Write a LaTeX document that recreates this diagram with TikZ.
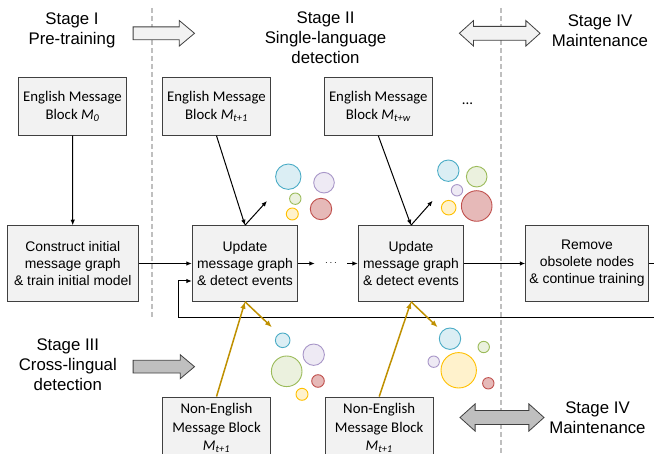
\documentclass[tikz,border=0pt]{standalone}
\usepackage{fontspec}
\setmainfont{Liberation Sans}
\newfontfamily\carlito{Carlito}
\usetikzlibrary{arrows.meta,shapes.arrows,positioning}
\definecolor{boxfill}{HTML}{F2F2F2}
\definecolor{boxline}{HTML}{404040}
\definecolor{stagegray}{HTML}{BFBFBF}
\definecolor{gold}{HTML}{BF9000}
\definecolor{cblue}{HTML}{4BACC6}
\definecolor{cgreen}{HTML}{9BBB59}
\definecolor{cpurple}{HTML}{A896C8}
\definecolor{cred}{HTML}{C0504D}
\definecolor{cyellow}{HTML}{FFC000}

\begin{document}
\begin{tikzpicture}[x=1pt, y=-1pt,
    block/.style={draw=boxline, fill=boxfill, line width=0.9pt, align=center, inner sep=0pt,
      font=\fontsize{13.9}{17}\selectfont},
    msgblock/.style={block, minimum width=108.4pt, minimum height=58pt,
      font=\carlito\fontsize{14.8}{18.2}\selectfont},
    stepblock/.style={block, minimum height=75.6pt},
    stage/.style={align=center, font=\fontsize{16.8}{20}\selectfont},
    arr/.style={-{Latex[length=5.5pt,width=4.5pt]}, line width=1pt},
    goldarr/.style={-{Latex[length=7pt,width=5.5pt]}, draw=gold, fill=gold, line width=1.5pt},
    divider/.style={draw=stagegray, line width=2.2pt, dash pattern=on 5pt off 3pt},
    bigone/.style={single arrow, draw=boxline, line width=0.8pt, inner xsep=0pt, inner ysep=6pt,
      single arrow tip angle=80, minimum height=61.4pt},
    bigtwo/.style={double arrow, draw=boxline, line width=0.8pt, inner xsep=0pt, inner ysep=6.5pt,
      double arrow tip angle=84},
    bub/.style={line width=0.9pt}]
  \useasboundingbox (0,0) rectangle (654,454);
  \clip (0,0) rectangle (654,454);

  % stage dividers
  \draw[divider] (152,8) -- (152,318);
  \draw[divider] (500.6,8) -- (500.6,454);

  % stage labels
  \node[stage] (stageI) at (72,30.5) {Stage I\\Pre-training};
  \node[stage] (stageII) at (325.5,38) {Stage II\\Single-language\\detection};
  \node[stage] (stageIVa) at (600,30.5) {Stage IV\\Maintenance};
  \node[stage] (stageIII) at (67.8,364.5) {Stage III\\Cross-lingual\\detection};
  \node[stage] (stageIVb) at (597.5,418) {Stage IV\\Maintenance};

  \node[bigone, fill=boxfill, single arrow head extend=6.35pt] (arrI) at (160,33.3) {};
  \node[bigtwo, fill=boxfill, double arrow head extend=5.85pt, minimum height=80.7pt] (arrIVa) at (499.7,33.3) {};
  \node[bigone, fill=stagegray, single arrow head extend=5.65pt] (arrIII) at (160,366.7) {};
  \node[bigtwo, fill=stagegray, inner ysep=6.65pt, double arrow head extend=6.55pt, minimum height=84pt] (arrIVb) at (502,417.5) {};

  % message blocks
  \node[msgblock] (em0) at (72.5,106.3) {English Message\\Block \textit{M\textsubscript{0}}};
  \node[msgblock] (em1) at (216.5,106.3) {English Message\\Block \textit{M\textsubscript{t+1}}};
  \node[msgblock] (em2) at (378.3,106.3) {English Message\\Block \textit{M\textsubscript{t+w}}};
  \node[font=\carlito\fontsize{14.8}{18}\selectfont] (moreblocks) at (467.5,104) {...};
  \node[msgblock, minimum height=62pt] (ne1) at (216.5,428) {Non-English\\Message Block\\\textit{M\textsubscript{t+1}}};
  \node[msgblock, minimum height=62pt] (ne2) at (379.2,428) {Non-English\\Message Block\\\textit{M\textsubscript{t+1}}};

  % processing steps
  \node[stepblock, minimum width=131pt] (construct) at (72.8,263.5) {Construct initial\\message graph\\\& train initial model};
  \node[stepblock, minimum width=105.4pt] (update1) at (245,263.5) {Update\\message graph\\\& detect events};
  \node[stepblock, minimum width=105.4pt] (update2) at (411,263.5) {Update\\message graph\\\& detect events};
  \node[stepblock, minimum width=122.6pt] (remove) at (587,263.5) {Remove\\obsolete nodes\\\& continue training};
  \node[minimum width=32pt, inner sep=0pt] (midots) at (331,263.5) {$\cdots$};

  % connectors
  \draw[arr] (em0) -- (construct);
  \draw[arr] (construct) -- (update1);
  \draw[arr] (update1) -- (midots);
  \draw[arr] (midots) -- (update2);
  \draw[arr] (update2) -- (remove);
  \coordinate (outR) at (654,263.5);
  \draw[line width=1pt] (remove) -- (outR);
  \coordinate (fbend) at (654,317.3);
  \coordinate (fbin) at ([yshift=-17.5pt]update1.west);
  \draw[arr] (fbend) -| ([xshift=-13.5pt]fbin) -- (fbin);

  \draw[arr] (em1.south) -- (update1.north);
  \draw[arr] (em2.south) -- (update2.north);
  \coordinate (ev1) at (267,201);
  \coordinate (ev2) at (432.7,200.7);
  \draw[arr] (update1.north) -- (ev1);
  \draw[arr] (update2.north) -- (ev2);

  \draw[goldarr] (ne1.north) -- (update1.south);
  \draw[goldarr] (ne2.north) -- (update2.south);
  \coordinate (cev1) at (272,327.3);
  \coordinate (cev2) at (437.7,327.3);
  \draw[goldarr] (update1.south) -- (cev1);
  \draw[goldarr] (update2.south) -- (cev2);

  % detected events
  \draw[bub, draw=cblue, fill=cblue!20] (288.3,176.7) circle (12.7);
  \draw[bub, draw=cpurple, fill=cpurple!20] (324,182.7) circle (10.3);
  \draw[bub, draw=cgreen, fill=cgreen!20] (295.3,198.7) circle (5.7);
  \draw[bub, draw=cyellow, fill=cyellow!20] (292.3,214) circle (6);
  \draw[bub, draw=cred, fill=cred!40] (321,209) circle (10.7);

  \draw[bub, draw=cblue, fill=cblue!20] (448.3,170.7) circle (10.7);
  \draw[bub, draw=cgreen, fill=cgreen!20] (476.7,176.7) circle (10.3);
  \draw[bub, draw=cpurple, fill=cpurple!20] (457,190.3) circle (5.7);
  \draw[bub, draw=cyellow, fill=cyellow!20] (448.7,207.7) circle (7.3);
  \draw[bub, draw=cred, fill=cred!40] (476.7,206) circle (15.3);

  \draw[bub, draw=cblue, fill=cblue!20] (282.7,340.3) circle (7.3);
  \draw[bub, draw=cpurple, fill=cpurple!20] (313.7,354.7) circle (10.7);
  \draw[bub, draw=cgreen, fill=cgreen!20] (286.7,371.3) circle (15.3);
  \draw[bub, draw=cred, fill=cred!40] (318,381) circle (6.3);
  \draw[bub, draw=cyellow, fill=cyellow!20] (302,394.3) circle (6);

  \draw[bub, draw=cblue, fill=cblue!20] (450,338.7) circle (10.7);
  \draw[bub, draw=cgreen, fill=cgreen!20] (483.7,347) circle (5.7);
  \draw[bub, draw=cpurple, fill=cpurple!20] (433.7,361.7) circle (5.7);
  \draw[bub, draw=cyellow, fill=cyellow!20] (458.7,370.3) circle (17.7);
  \draw[bub, draw=cred, fill=cred!40] (488.3,383.3) circle (5.7);
\end{tikzpicture}
\end{document}
